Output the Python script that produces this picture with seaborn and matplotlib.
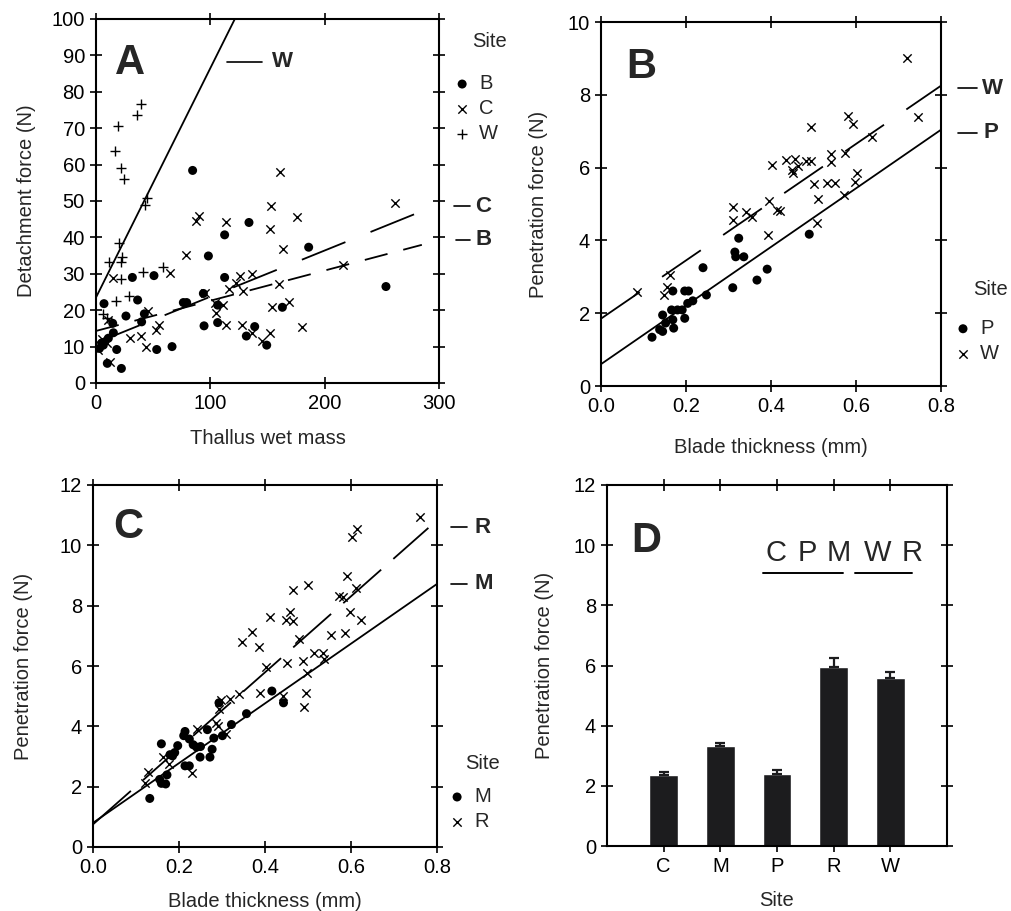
import numpy as np
import pandas as pd
import seaborn as sns
import matplotlib.pyplot as plt

sns.set_style("ticks")
plt.rcParams['font.family'] = ['Liberation Sans', 'DejaVu Sans']

# ---- panel A: detachment force vs thallus wet mass
a_b_mass = [84.5, 133.8, 112.5, 186, 98.3, 31.8, 50.7, 112.5, 7, 36.4, 76.4, 79.3, 93.9, 106.4, 163, 253.6,
            26.2, 42.3, 39.9, 14.6, 15.2, 94.5, 106.4, 138.8, 131.5, 149.3, 53.1, 66.5, 18.1, 9.9, 22.2, 6.4,
            10.8, 3, 5]
a_b_force = [58.4, 44.1, 40.7, 37.3, 34.9, 29.0, 29.5, 29.0, 21.8, 22.8, 22.1, 22.1, 24.6, 21.4, 20.8, 26.5,
             18.4, 19.0, 16.8, 16.4, 13.8, 15.7, 16.6, 15.5, 12.9, 10.4, 9.2, 10.0, 9.2, 5.4, 4.0, 10.4,
             12.3, 9.5, 11]
a_c_mass = [160.9, 261.8, 153.1, 175.8, 89.8, 87.5, 113.7, 152, 163.8, 79, 215.7, 64.7, 136.7, 126.2, 14.6,
            122.4, 116.6, 160.3, 128.3, 95.3, 104.1, 110.8, 104.7, 168.8, 154.2, 45.2, 55.4, 52.2, 113.7, 128,
            180.5, 29.7, 39.1, 43.7, 136.7, 152.5, 145.5, 12.2, 9.3, 2, 10.8, 5]
a_c_force = [58.0, 49.5, 48.6, 45.5, 46.0, 44.6, 44.2, 42.2, 36.8, 35.3, 32.3, 30.3, 30.0, 29.5, 28.8,
             27.4, 25.7, 27.2, 25.3, 24.6, 22.1, 21.5, 19.3, 22.3, 21.0, 19.8, 15.9, 14.6, 15.9, 15.9,
             15.5, 12.5, 12.9, 10.0, 13.6, 13.6, 11.6, 5.9, 10.9, 9.1, 17.3, 12]
a_w_mass = [39.1, 35.6, 19.2, 16.6, 21.6, 24.2, 44.9, 42.9, 20.4, 23.0, 11.7, 22.2, 21.6, 40.8, 58.3, 17.5,
            29.2, 6.4, 9.3]
a_w_force = [76.6, 73.5, 70.6, 63.8, 59.0, 56.0, 50.9, 48.9, 38.4, 34.7, 33.2, 33.2, 28.5, 30.4, 31.8, 22.6,
             23.9, 19.0, 17.8]
# fitted lines (intercept, slope, x end)
a_fit = {'W': (23.5, 0.63, 125), 'C': (11.0, 0.127, 290), 'B': (14.3, 0.083, 285)}

# ---- panel B: penetration force vs blade thickness (P, W)
b_p_thick = [0.120, 0.138, 0.145, 0.145, 0.152, 0.169, 0.171, 0.169, 0.166, 0.180, 0.191, 0.197, 0.197,
             0.206, 0.204, 0.216, 0.240, 0.248, 0.310, 0.324, 0.315, 0.317, 0.336, 0.367, 0.391, 0.490]
b_p_force = [1.34, 1.55, 1.5, 1.95, 1.73, 1.82, 1.59, 2.61, 2.09, 2.09, 2.09, 1.86, 2.61,
             2.61, 2.27, 2.34, 3.25, 2.5, 2.7, 4.06, 3.68, 3.55, 3.55, 2.91, 3.21, 4.17]
b_w_thick = [0.084, 0.148, 0.155, 0.162, 0.310, 0.310, 0.342, 0.355, 0.396, 0.392, 0.402, 0.414, 0.420,
             0.436, 0.449, 0.457, 0.452, 0.464, 0.483, 0.495, 0.493, 0.502, 0.510, 0.508, 0.532, 0.550,
             0.541, 0.542, 0.571, 0.582, 0.592, 0.575, 0.597, 0.603, 0.638, 0.721, 0.747]
b_w_force = [2.57, 2.5, 2.73, 3.05, 4.91, 4.57, 4.79, 4.64, 5.09, 4.15, 6.06, 4.83, 4.82,
             6.21, 5.94, 6.25, 5.85, 6.05, 6.18, 6.17, 7.11, 5.56, 5.15, 4.47, 5.59, 5.59,
             6.36, 6.15, 5.25, 7.43, 7.2, 6.41, 5.61, 5.84, 6.84, 9.0, 7.39]
b_fit = {'W': (1.85, 8.0, 0.8), 'P': (0.6, 8.05, 0.8)}

# ---- panel C: penetration force vs blade thickness (M, R)
c_r_thick = [0.761, 0.614, 0.602, 0.591, 0.464, 0.499, 0.571, 0.581, 0.611, 0.412, 0.457, 0.449, 0.464,
             0.597, 0.623, 0.346, 0.369, 0.386, 0.479, 0.554, 0.586, 0.402, 0.452, 0.488, 0.514, 0.536,
             0.537, 0.497, 0.388, 0.443, 0.496, 0.491, 0.340, 0.318, 0.297, 0.293, 0.287, 0.290, 0.309,
             0.242, 0.231, 0.163, 0.177, 0.128, 0.120]
c_r_force = [10.93, 10.53, 10.28, 8.98, 8.53, 8.69, 8.31, 8.28, 8.58, 7.64, 7.8, 7.53, 7.48,
             7.78, 7.53, 6.8, 7.13, 6.64, 6.89, 7.03, 7.11, 5.98, 6.11, 6.17, 6.42, 6.44,
             6.22, 5.78, 5.11, 5.02, 5.09, 4.64, 5.06, 4.91, 4.87, 4.56, 4.11, 4.0, 3.76,
             3.91, 2.44, 3.0, 2.76, 2.5, 2.11]
c_m_thick = [0.416, 0.443, 0.357, 0.322, 0.293, 0.301, 0.281, 0.266, 0.277, 0.272, 0.249, 0.214, 0.211,
             0.224, 0.233, 0.241, 0.250, 0.197, 0.190, 0.185, 0.159, 0.214, 0.224, 0.172, 0.155, 0.159,
             0.169, 0.132, 0.179]
c_m_force = [5.17, 4.78, 4.42, 4.06, 4.78, 3.69, 3.61, 3.89, 3.24, 2.98, 2.98, 3.83, 3.69,
             3.58, 3.39, 3.31, 3.33, 3.36, 3.13, 3.02, 3.42, 2.69, 2.69, 2.39, 2.24, 2.11,
             2.09, 1.61, 3.06]
c_fit = {'R': (0.75, 12.6, 0.78), 'M': (0.8, 9.9, 0.8)}

# ---- panel D: mean penetration force per site
d_sites = ['C', 'M', 'P', 'R', 'W']
d_mean = [2.37, 3.31, 2.40, 5.94, 5.58]
d_se = [0.09, 0.13, 0.13, 0.30, 0.21]

FS = 14.5
LW = 1.3
long_dash = (0, (26, 15))
short_dash = (0, (13, 9))

fig = plt.figure(figsize=(10.11, 9.11), dpi=100)
W_, H_ = 1011, 911


def add_ax(l, r, t, b):
    return fig.add_axes([l / W_, (H_ - b) / H_, (r - l) / W_, (b - t) / H_])


def style_ax(ax):
    ax.tick_params(direction='inout', length=8, width=1.2, top=True, right=True,
                   labelsize=FS, pad=4, colors='black')
    for s in ax.spines.values():
        s.set_linewidth(1.5)
        s.set_color('black')
        s.set_visible(True)


def scatter(ax, x, y, marker, label):
    if marker == 'o':
        sns.scatterplot(x=x, y=y, ax=ax, marker='o', s=42, color='black', edgecolor='none',
                        label=label, clip_on=False, zorder=3)
    else:
        sns.scatterplot(x=x, y=y, ax=ax, marker=marker, s=52 if marker == '+' else 36,
                        color='black', linewidth=1.0, label=label, zorder=3)


def fit_line(ax, fit, key, ls):
    a, b, xend = fit[key]
    xs = np.array([0, xend])
    sns.lineplot(x=xs, y=a + b * xs, ax=ax, color='black', lw=LW, linestyle=ls)


def right_label(ax, y, text, x0, x1, xt):
    tr = ax.get_yaxis_transform()
    ax.plot([x0, x1], [y, y], transform=tr, color='black', lw=1.2, clip_on=False)
    ax.text(xt, y, text, transform=tr, fontsize=16, fontweight='bold', va='center', ha='left')


def site_legend(ax, title_xy, anchor):
    h, l = ax.get_legend_handles_labels()
    ax.legend(h, l, loc='upper left', bbox_to_anchor=anchor, frameon=False, fontsize=FS,
              handlelength=0.8, handletextpad=0.45, labelspacing=0.3, borderpad=0, borderaxespad=0)
    ax.text(title_xy[0], title_xy[1], 'Site', transform=ax.transAxes, fontsize=FS,
            ha='left', va='center')


def panel_letter(ax, letter, xy):
    ax.text(xy[0], xy[1], letter, transform=ax.transAxes, fontsize=30, fontweight='bold',
            ha='left', va='top')


# ---------------- A
axA = add_ax(96, 439, 19, 383)
scatter(axA, a_b_mass, a_b_force, 'o', 'B')
scatter(axA, a_c_mass, a_c_force, 'x', 'C')
scatter(axA, a_w_mass, a_w_force, '+', 'W')
fit_line(axA, a_fit, 'W', '-')
fit_line(axA, a_fit, 'C', long_dash)
fit_line(axA, a_fit, 'B', short_dash)
axA.set_xlim(0, 300)
axA.set_ylim(0, 100)
axA.set_xticks([0, 100, 200, 300])
axA.set_yticks(np.arange(0, 101, 10))
axA.set_xlabel('Thallus wet mass', fontsize=FS)
axA.set_ylabel('Detachment force (N)', fontsize=FS)
style_ax(axA)
panel_letter(axA, 'A', (0.055, 0.935))
axA.plot([115, 145], [88.3, 88.3], color='black', lw=1.2)
axA.text(154, 88.3, 'W', fontsize=16, fontweight='bold', va='center', ha='left')
right_label(axA, 48.6, 'C', 1.045, 1.09, 1.105)
right_label(axA, 39.3, 'B', 1.05, 1.09, 1.105)
site_legend(axA, (1.096, 0.937), (1.044, 0.848))

# ---------------- B
axB = add_ax(601, 941, 22, 386)
scatter(axB, b_p_thick, b_p_force, 'o', 'P')
scatter(axB, b_w_thick, b_w_force, 'x', 'W')
fit_line(axB, b_fit, 'W', long_dash)
fit_line(axB, b_fit, 'P', '-')
axB.set_xlim(0, 0.8)
axB.set_ylim(0, 10)
axB.set_xticks(np.arange(0, 0.81, 0.2))
axB.set_yticks(np.arange(0, 11, 2))
axB.set_xlabel('Blade thickness (mm)', fontsize=FS)
axB.set_ylabel('Penetration force (N)', fontsize=FS)
style_ax(axB)
panel_letter(axB, 'B', (0.075, 0.93))
right_label(axB, 8.18, 'W', 1.05, 1.105, 1.12)
right_label(axB, 6.96, 'P', 1.05, 1.105, 1.125)
site_legend(axB, (1.094, 0.264), (1.041, 0.184))

# ---------------- C
axC = add_ax(93, 437, 485, 847)
scatter(axC, c_m_thick, c_m_force, 'o', 'M')
scatter(axC, c_r_thick, c_r_force, 'x', 'R')
fit_line(axC, c_fit, 'R', (0, (28, 9)))
fit_line(axC, c_fit, 'M', '-')
axC.set_xlim(0, 0.8)
axC.set_ylim(0, 12)
axC.set_xticks(np.arange(0, 0.81, 0.2))
axC.set_yticks(np.arange(0, 13, 2))
axC.set_xlabel('Blade thickness (mm)', fontsize=FS)
axC.set_ylabel('Penetration force (N)', fontsize=FS)
style_ax(axC)
panel_letter(axC, 'C', (0.06, 0.94))
right_label(axC, 10.6, 'R', 1.04, 1.087, 1.11)
right_label(axC, 8.72, 'M', 1.04, 1.087, 1.11)
site_legend(axC, (1.081, 0.232), (1.035, 0.165))

# ---------------- D
axD = add_ax(607, 947, 485, 846)
d_df = pd.DataFrame({'site': d_sites, 'force': d_mean})
sns.barplot(data=d_df, x='site', y='force', ax=axD, color='#1c1c1e', width=0.51,
            saturation=1, errorbar=None, zorder=2)
axD.errorbar(np.arange(len(d_sites)), d_mean, yerr=[np.zeros(len(d_se)), d_se], fmt='none',
             ecolor='#1c1c1e', elinewidth=1.6, capsize=3.5, capthick=1.6, zorder=3)
axD.set_xlim(-1, 5)
axD.set_ylim(0, 12)
axD.set_yticks(np.arange(0, 13, 2))
axD.set_xlabel('Site', fontsize=FS)
axD.set_ylabel('Penetration force (N)', fontsize=FS)
style_ax(axD)
panel_letter(axD, 'D', (0.07, 0.9))
for lab, xpos in zip(['C', 'P', 'M', 'W', 'R'], [1.99, 2.54, 3.09, 3.78, 4.39]):
    axD.text(xpos, 9.75, lab, fontsize=21, ha='center', va='center')
axD.plot([1.75, 3.17], [9.08, 9.08], color='black', lw=1.4)
axD.plot([3.38, 4.39], [9.08, 9.08], color='black', lw=1.4)

axA.yaxis.set_label_coords(-0.175, 0.5)
axC.yaxis.set_label_coords(-0.175, 0.5)
axB.yaxis.set_label_coords(-0.155, 0.5)
axD.yaxis.set_label_coords(-0.155, 0.5)
axA.xaxis.set_label_coords(0.5, -0.125)
axB.xaxis.set_label_coords(0.5, -0.143)
axC.xaxis.set_label_coords(0.5, -0.125)
axD.xaxis.set_label_coords(0.5, -0.125)

fig.savefig('out.png', dpi=100, facecolor='white')
